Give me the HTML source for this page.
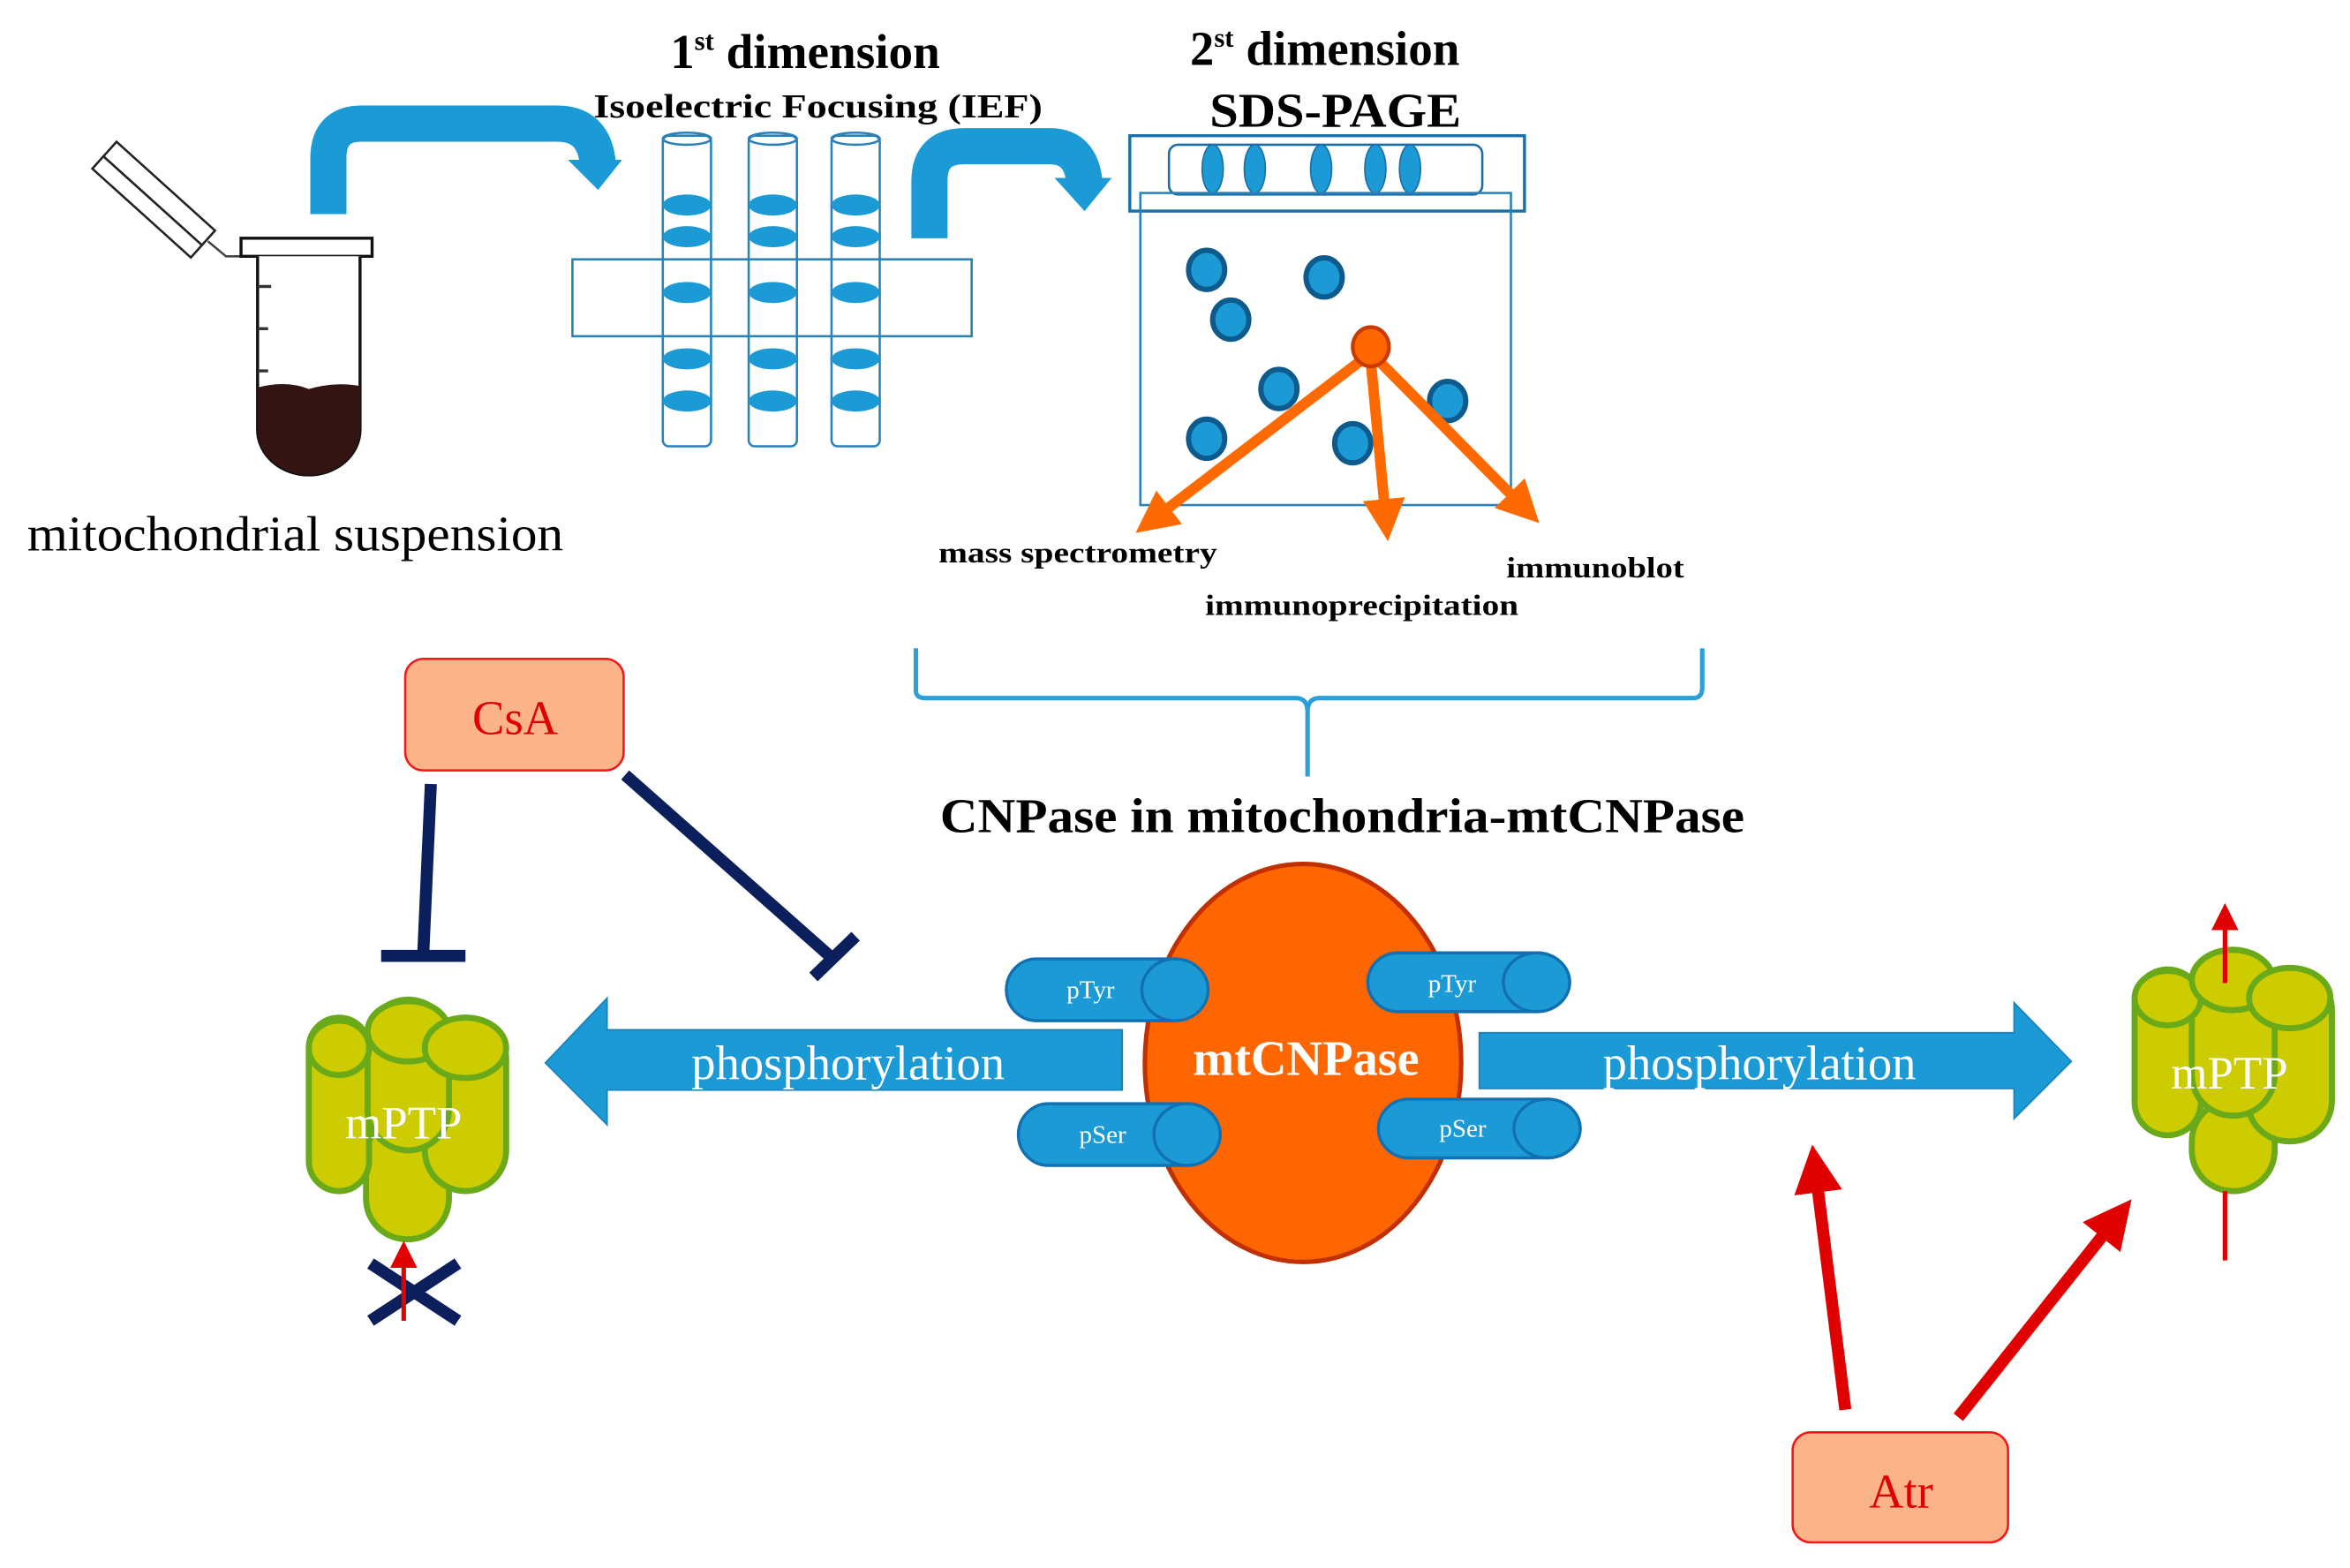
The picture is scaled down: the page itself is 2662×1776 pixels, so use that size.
<!DOCTYPE html>
<html><head><meta charset="utf-8"><style>html,body{margin:0;padding:0;background:#fff}svg{display:block}</style></head><body>
<svg width="2662" height="1776" viewBox="0 0 1560 1040" preserveAspectRatio="none" xmlns="http://www.w3.org/2000/svg" font-family="'Liberation Serif', serif">
<defs>
<marker id="oa" markerWidth="4" markerHeight="4" refX="2" refY="2" orient="auto" markerUnits="strokeWidth"><path d="M0,0 L4,2 L0,4 z" fill="#ff6a00"/></marker>
<marker id="ra" markerWidth="4" markerHeight="4" refX="2" refY="2" orient="auto" markerUnits="strokeWidth"><path d="M0,0 L4,2 L0,4 z" fill="#e00000"/></marker>
<marker id="ra2" markerWidth="6" markerHeight="6" refX="3" refY="3" orient="auto" markerUnits="strokeWidth"><path d="M0,0 L6,3 L0,6 z" fill="#e00000"/></marker>
</defs>
<!-- pipette + tube -->
<g transform="translate(72,100) rotate(42)"><rect x="0" y="-8" width="88" height="13" fill="#fff" stroke="#222" stroke-width="1.5"/><rect x="0" y="5" width="88" height="11" fill="#fff" stroke="#222" stroke-width="1.5"/></g>
<path d="M138,160 L150,170 L162,170" fill="none" stroke="#444" stroke-width="1.5"/>
<rect x="160" y="158" width="87" height="12" fill="#fff" stroke="#111" stroke-width="2"/>
<path d="M171,170 V285 A34,30 0 0 0 239,285 V170" fill="#fff" stroke="#111" stroke-width="2"/>
<path d="M171,257 Q190,252 205,258 Q222,253 239,256 V285 A34,30 0 0 1 171,285 Z" fill="#331412"/>
<g stroke="#333" stroke-width="2"><line x1="171" y1="190" x2="180" y2="190"/><line x1="171" y1="218" x2="178" y2="218"/><line x1="171" y1="246" x2="178" y2="246"/></g>
<text x="18" y="365" font-size="33" textLength="356" lengthAdjust="spacingAndGlyphs">mitochondrial suspension</text>
<!-- blue curved arrows -->
<path d="M218,142 V105 Q218,82 240,82 H370 Q395,82 397,110" fill="none" stroke="#1b9ad6" stroke-width="24"/>
<path d="M377,106 L413,106 L397,126 Z" fill="#1b9ad6"/>
<path d="M617,158 V120 Q617,97 640,97 H697 Q718,97 720,122" fill="none" stroke="#1b9ad6" stroke-width="24"/>
<path d="M700,118 L738,118 L720,140 Z" fill="#1b9ad6"/>
<!-- titles -->
<text x="445" y="45" font-size="32" font-weight="bold">1<tspan font-size="18" dy="-12">st</tspan><tspan dy="12" textLength="150" lengthAdjust="spacingAndGlyphs"> dimension</tspan></text>
<text x="394" y="78" font-size="22" font-weight="bold" textLength="298" lengthAdjust="spacingAndGlyphs">Isoelectric Focusing (IEF)</text>
<text x="790" y="43" font-size="32" font-weight="bold">2<tspan font-size="18" dy="-12">st</tspan><tspan dy="12" textLength="150" lengthAdjust="spacingAndGlyphs"> dimension</tspan></text>
<text x="803" y="84" font-size="32" font-weight="bold" textLength="167" lengthAdjust="spacingAndGlyphs">SDS-PAGE</text>
<!-- IEF tubes -->
<g stroke="#2a80b9" stroke-width="1.5" fill="none">
<rect x="440" y="90" width="32" height="206" rx="4"/><ellipse cx="456" cy="92" rx="16" ry="4"/>
<rect x="497" y="90" width="32" height="206" rx="4"/><ellipse cx="513" cy="92" rx="16" ry="4"/>
<rect x="552" y="90" width="32" height="206" rx="4"/><ellipse cx="568" cy="92" rx="16" ry="4"/>
<rect x="380" y="172" width="265" height="51"/>
</g>
<g fill="#1b9ad6">
<ellipse cx="456" cy="136" rx="16" ry="7"/><ellipse cx="456" cy="157" rx="16" ry="7"/><ellipse cx="456" cy="194" rx="16" ry="7"/><ellipse cx="456" cy="238" rx="16" ry="7"/><ellipse cx="456" cy="266" rx="16" ry="7"/>
<ellipse cx="513" cy="136" rx="16" ry="7"/><ellipse cx="513" cy="157" rx="16" ry="7"/><ellipse cx="513" cy="194" rx="16" ry="7"/><ellipse cx="513" cy="238" rx="16" ry="7"/><ellipse cx="513" cy="266" rx="16" ry="7"/>
<ellipse cx="568" cy="136" rx="16" ry="7"/><ellipse cx="568" cy="157" rx="16" ry="7"/><ellipse cx="568" cy="194" rx="16" ry="7"/><ellipse cx="568" cy="238" rx="16" ry="7"/><ellipse cx="568" cy="266" rx="16" ry="7"/>
</g>
<!-- SDS gel -->
<rect x="750" y="90" width="262" height="50" fill="none" stroke="#1a6fa8" stroke-width="2"/>
<rect x="776" y="96" width="208" height="33" rx="6" fill="none" stroke="#1a6fa8" stroke-width="1.5"/>
<g fill="#1b9ad6" stroke="#1a6fa8"><ellipse cx="805" cy="112" rx="7" ry="16"/><ellipse cx="833" cy="112" rx="7" ry="16"/><ellipse cx="877" cy="112" rx="7" ry="16"/><ellipse cx="913" cy="112" rx="7" ry="16"/><ellipse cx="936" cy="112" rx="7" ry="16"/></g>
<rect x="757" y="128" width="246" height="207" fill="none" stroke="#2a80b9" stroke-width="1.5"/>
<g fill="#1b9ad6" stroke="#0d5a8c" stroke-width="3.5">
<ellipse cx="801" cy="179" rx="12" ry="13"/><ellipse cx="879" cy="184" rx="12" ry="13"/><ellipse cx="817" cy="212" rx="12" ry="13"/><ellipse cx="849" cy="258" rx="12" ry="13"/><ellipse cx="961" cy="266" rx="12" ry="13"/><ellipse cx="801" cy="291" rx="12" ry="13"/><ellipse cx="898" cy="294" rx="12" ry="13"/>
</g>
<g stroke="#ff6a00" stroke-width="7" fill="none">
<line x1="905" y1="238" x2="765" y2="345" marker-end="url(#oa)"/>
<line x1="910" y1="240" x2="920" y2="345" marker-end="url(#oa)"/>
<line x1="914" y1="238" x2="1012" y2="337" marker-end="url(#oa)"/>
</g>
<ellipse cx="910" cy="230" rx="12" ry="13" fill="#ff6600" stroke="#c83a00" stroke-width="2.5"/>
<text x="623" y="373" font-size="19" font-weight="bold" textLength="185" lengthAdjust="spacingAndGlyphs">mass spectrometry</text>
<text x="800" y="408" font-size="19" font-weight="bold" textLength="208" lengthAdjust="spacingAndGlyphs">immunoprecipitation</text>
<text x="1000" y="383" font-size="19" font-weight="bold" textLength="118" lengthAdjust="spacingAndGlyphs">immunoblot</text>
<!-- brace -->
<path d="M608,430 V458 Q608,463 614,463 H860 Q868,463 868,472 V515 M868,472 Q868,463 876,463 H1124 Q1130,463 1130,456 V430" fill="none" stroke="#2a9fd8" stroke-width="3"/>
<text x="624" y="552" font-size="32" font-weight="bold" textLength="534" lengthAdjust="spacingAndGlyphs">CNPase in mitochondria-mtCNPase</text>
<!-- CsA / Atr -->
<rect x="269" y="437" width="145" height="74" rx="12" fill="#fdb38a" stroke="#f01818" stroke-width="1.5"/>
<text x="342" y="487" font-size="32" fill="#e00000" text-anchor="middle">CsA</text>
<rect x="1190" y="950" width="143" height="73" rx="12" fill="#fdb38a" stroke="#f01818" stroke-width="1.5"/>
<text x="1262" y="1000" font-size="32" fill="#e00000" text-anchor="middle">Atr</text>
<!-- inhibition -->
<g stroke="#0b1f5c" stroke-width="8" fill="none">
<line x1="286" y1="520" x2="281" y2="632"/><line x1="253" y1="634" x2="309" y2="634"/>
<line x1="415" y1="514" x2="553" y2="636"/><line x1="540" y1="648" x2="568" y2="621"/>
<line x1="246" y1="838" x2="304" y2="876"/><line x1="304" y1="838" x2="246" y2="876"/>
</g>
<!-- left mPTP -->
<g fill="#cccc00" stroke="#6aaa1a" stroke-width="4">
<rect x="243" y="740" width="55" height="82" rx="27"/>
<rect x="205" y="675" width="40" height="115" rx="20"/>
<rect x="282" y="675" width="54" height="115" rx="27"/>
<rect x="244" y="663" width="54" height="100" rx="27"/>
<ellipse cx="225" cy="695" rx="20" ry="18"/><ellipse cx="271" cy="684" rx="27" ry="20"/><ellipse cx="309" cy="695" rx="27" ry="20"/>
</g>
<text x="268" y="755" font-size="31" fill="#fff" text-anchor="middle">mPTP</text>
<line x1="268" y1="876" x2="268" y2="832" stroke="#e00000" stroke-width="3" marker-end="url(#ra2)"/>
<!-- right mPTP -->
<g fill="#cccc00" stroke="#6aaa1a" stroke-width="4">
<rect x="1455" y="730" width="55" height="60" rx="27"/>
<rect x="1417" y="643" width="44" height="110" rx="22"/>
<rect x="1492" y="643" width="56" height="114" rx="27"/>
<rect x="1455" y="630" width="55" height="110" rx="27"/>
<ellipse cx="1439" cy="662" rx="22" ry="18"/><ellipse cx="1482" cy="650" rx="27" ry="20"/><ellipse cx="1520" cy="662" rx="27" ry="20"/>
</g>
<text x="1480" y="722" font-size="31" fill="#fff" text-anchor="middle">mPTP</text>
<line x1="1477" y1="652" x2="1477" y2="608" stroke="#e00000" stroke-width="3" marker-end="url(#ra2)"/>
<line x1="1477" y1="790" x2="1477" y2="836" stroke="#e00000" stroke-width="3"/>
<!-- phosphorylation arrows -->
<path d="M745,683 H403 V662 L362,705 L403,746 V723 H745 Z" fill="#1b9ad6" stroke="#1a80b9" stroke-width="1"/>
<text x="563" y="716" font-size="32" fill="#fff" text-anchor="middle">phosphorylation</text>
<path d="M982,685 H1337 V665 L1375,704 L1337,742 V722 H982 Z" fill="#1b9ad6" stroke="#1a80b9" stroke-width="1"/>
<text x="1168" y="716" font-size="32" fill="#fff" text-anchor="middle">phosphorylation</text>
<!-- mtCNPase -->
<ellipse cx="865" cy="705" rx="105" ry="132" fill="#ff6600" stroke="#c03000" stroke-width="3"/>
<text x="867" y="713" font-size="33" font-weight="bold" fill="#fff" text-anchor="middle">mtCNPase</text>
<!-- cylinders -->
<g fill="#1b9ad6" stroke="#1070b0" stroke-width="2">
<path d="M688,636 H780 A22,21 0 0 1 780,677 H688 A20,20.5 0 0 1 688,636 Z"/><ellipse cx="780" cy="656.5" rx="22" ry="20.5"/>
<path d="M928,632 H1020 A22,19.5 0 0 1 1020,671 H928 A20,19.5 0 0 1 928,632 Z"/><ellipse cx="1020" cy="651.5" rx="22" ry="19.5"/>
<path d="M696,732 H788 A22,20.5 0 0 1 788,773 H696 A20,20.5 0 0 1 696,732 Z"/><ellipse cx="788" cy="752.5" rx="22" ry="20.5"/>
<path d="M935,729 H1027 A22,19.5 0 0 1 1027,768 H935 A20,19.5 0 0 1 935,729 Z"/><ellipse cx="1027" cy="748.5" rx="22" ry="19.5"/>
</g>
<g font-size="17" fill="#fff" text-anchor="middle">
<text x="724" y="662">pTyr</text><text x="964" y="658">pTyr</text><text x="732" y="758">pSer</text><text x="971" y="754">pSer</text>
</g>
<!-- Atr arrows -->
<g stroke="#e00000" stroke-width="8" fill="none">
<line x1="1225" y1="935" x2="1205" y2="775" marker-end="url(#ra)"/>
<line x1="1300" y1="940" x2="1405" y2="808" marker-end="url(#ra)"/>
</g>
</svg>
</body></html>
